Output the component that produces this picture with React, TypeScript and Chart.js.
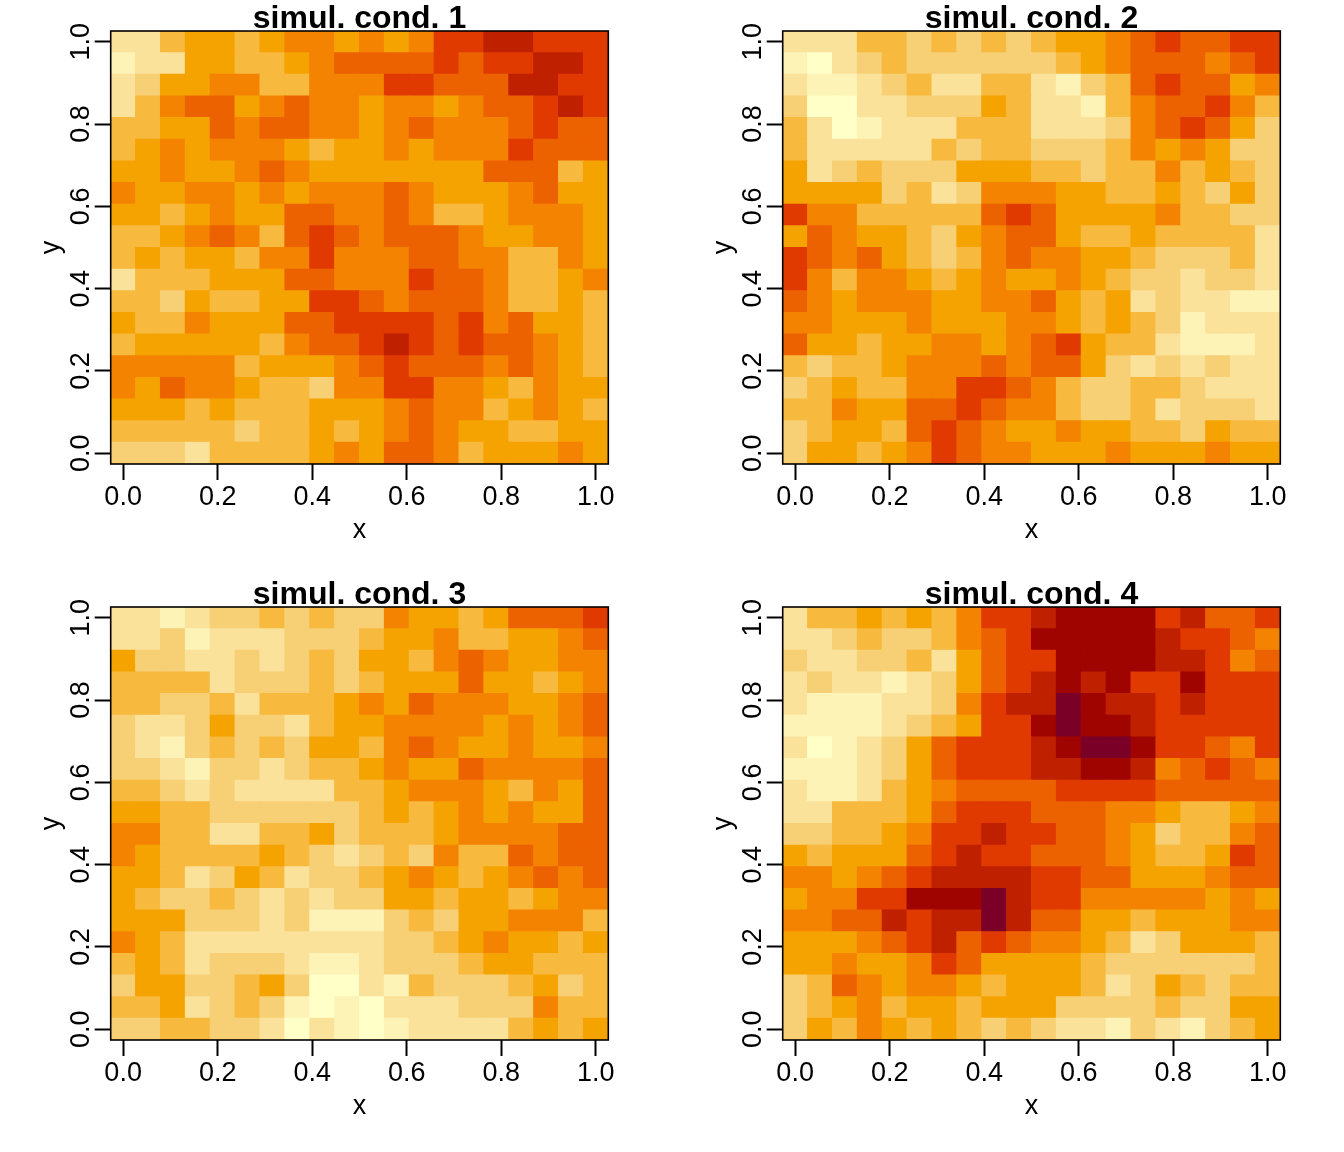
import React, { useEffect, useRef } from "react";
import { Chart, registerables } from "chart.js";

Chart.register(...registerables);

const palette = ["#FFFFC8", "#FDF3B6", "#FBE29A", "#F7CF74", "#F7B93E", "#F5A300", "#F38300", "#ED6200", "#E03A00", "#BF2000", "#9F0400", "#7A0028"];

const titles = ["simul. cond. 1", "simul. cond. 2", "simul. cond. 3", "simul. cond. 4"];
const tickValues = [0, 0.2, 0.4, 0.6, 0.8, 1];

const cond1 = [
  [2,2,4,5,5,4,5,6,6,5,6,5,6,8,8,9,9,8,8,8],
  [1,2,2,5,5,4,4,5,6,7,7,7,7,8,7,8,8,9,9,8],
  [2,3,5,5,6,6,4,4,6,6,6,8,8,7,7,7,9,9,8,8],
  [2,4,6,7,7,5,6,7,6,6,5,6,6,5,6,7,7,8,9,8],
  [4,4,5,5,7,6,7,7,6,6,5,6,7,6,6,6,7,8,7,7],
  [4,5,6,5,6,6,6,5,4,5,5,6,5,6,6,6,8,7,7,7],
  [5,5,6,5,5,6,7,6,5,5,5,5,5,5,5,7,7,7,4,5],
  [6,5,5,6,6,5,6,5,6,6,6,7,6,5,5,5,6,7,5,5],
  [5,5,4,5,6,5,5,7,7,6,6,7,6,4,4,5,6,6,6,5],
  [4,4,5,6,7,6,4,7,8,7,6,7,7,7,6,5,5,6,6,5],
  [4,5,4,5,5,4,6,6,8,6,6,6,7,7,6,6,4,4,6,5],
  [2,4,4,4,5,5,5,7,7,6,6,6,8,7,7,6,4,4,5,6],
  [4,4,3,5,4,4,5,5,8,8,7,6,7,7,7,6,4,4,5,4],
  [5,4,4,6,5,5,5,7,7,8,8,8,8,7,8,6,7,5,5,4],
  [4,5,5,5,5,5,4,6,7,7,8,9,8,7,8,7,7,6,5,4],
  [6,6,6,6,6,4,5,5,5,6,7,8,7,7,7,6,7,6,5,4],
  [6,5,7,6,6,5,4,4,3,6,6,8,8,6,6,5,4,6,5,5],
  [5,5,5,4,5,4,4,4,5,5,5,6,7,6,6,4,5,6,5,4],
  [4,4,4,4,4,3,4,4,5,4,5,6,7,6,5,5,4,4,5,5],
  [3,3,3,2,4,4,4,4,5,6,5,7,7,6,4,5,5,5,6,5],
];

const cond2 = [
  [2,2,2,4,4,3,4,3,4,3,4,5,5,6,7,8,7,7,8,8],
  [1,0,2,3,4,3,3,3,3,3,3,4,5,6,7,7,7,6,7,8],
  [2,1,1,2,3,4,2,2,4,4,2,1,3,4,7,8,7,7,5,6],
  [3,0,0,2,2,3,3,3,5,4,2,2,1,4,6,7,7,8,6,4],
  [4,2,0,1,2,2,2,4,4,4,2,2,2,3,6,7,8,7,5,3],
  [4,2,2,2,2,2,4,3,4,4,3,3,3,4,6,5,6,5,3,3],
  [5,2,3,4,3,3,3,5,5,5,4,4,3,4,4,6,4,5,4,3],
  [5,5,5,5,3,4,2,3,6,6,6,5,5,4,4,5,4,3,5,3],
  [8,6,6,4,4,4,4,4,7,8,7,5,5,5,5,6,4,4,3,3],
  [5,7,6,5,5,4,3,5,6,7,7,5,4,4,5,4,4,4,4,2],
  [8,7,6,7,5,4,3,4,6,7,6,6,5,5,4,3,3,3,4,2],
  [8,6,4,6,6,5,4,5,6,5,5,6,5,4,3,3,2,3,3,2],
  [7,6,5,6,6,6,5,5,6,6,7,5,4,5,2,3,2,2,1,1],
  [6,6,5,5,5,6,5,5,5,6,6,5,4,5,4,3,1,2,2,2],
  [7,5,5,4,5,5,6,6,5,6,7,8,5,4,4,2,1,1,1,2],
  [4,3,4,4,5,6,6,6,7,6,7,7,5,3,2,3,2,3,2,2],
  [3,4,5,4,4,6,6,8,8,7,6,4,3,3,4,4,3,2,2,2],
  [4,4,6,5,5,7,7,8,7,6,6,4,3,3,4,2,3,3,3,2],
  [3,4,5,5,4,7,8,7,6,5,5,6,5,5,4,4,3,5,4,4],
  [3,5,5,4,5,6,8,7,6,6,5,5,5,6,5,5,5,6,5,5],
];

const cond3 = [
  [2,2,1,2,3,3,4,3,4,3,3,6,5,5,4,5,7,7,7,8],
  [2,2,3,1,2,2,2,3,3,3,4,5,5,6,4,4,5,5,6,7],
  [5,3,3,2,2,3,2,3,4,3,5,5,4,6,7,6,5,5,6,6],
  [4,4,4,4,2,3,3,3,4,3,4,5,5,5,7,5,5,4,5,6],
  [4,4,3,3,4,2,4,4,4,5,6,5,7,6,6,6,5,5,6,7],
  [3,2,2,3,5,3,3,2,4,5,5,6,6,6,6,5,6,5,6,7],
  [3,2,1,3,4,3,4,3,5,5,4,6,7,6,5,5,6,5,5,6],
  [3,3,2,1,3,3,2,3,4,4,5,6,5,5,7,6,6,6,6,7],
  [4,4,3,2,3,2,2,2,2,4,4,5,6,6,6,5,4,6,5,7],
  [5,5,4,4,3,3,3,3,3,3,4,5,4,5,6,5,6,5,5,7],
  [6,6,4,4,2,2,4,4,5,3,4,4,4,5,6,6,6,6,7,7],
  [6,5,4,4,4,4,5,4,3,2,3,4,3,6,4,4,7,6,7,7],
  [5,5,4,2,3,5,4,2,3,3,4,5,6,5,4,5,6,7,6,7],
  [5,4,3,3,4,3,2,3,2,3,3,5,5,4,5,5,4,5,6,6],
  [5,5,5,3,3,3,2,3,1,1,1,3,4,3,5,5,6,6,6,4],
  [6,5,4,2,2,2,2,2,2,2,2,3,3,4,5,6,5,5,4,5],
  [4,5,4,2,3,3,3,2,1,1,2,3,3,3,4,5,5,4,4,4],
  [3,5,5,3,3,4,5,3,0,0,2,1,4,3,3,3,4,5,3,4],
  [4,4,5,2,3,4,3,1,0,1,0,2,2,2,3,3,3,6,4,4],
  [3,3,4,4,3,3,2,0,2,1,0,1,2,2,2,2,4,5,4,5],
];

const cond4 = [
  [2,4,4,5,4,5,4,6,8,8,9,10,10,10,10,8,9,7,7,8],
  [2,2,3,4,3,3,4,6,7,8,10,10,10,10,10,9,8,8,7,6],
  [3,2,2,3,3,4,2,5,7,8,8,10,10,10,10,9,9,8,6,7],
  [2,3,2,2,1,2,3,5,7,8,9,10,9,10,8,8,10,8,8,8],
  [2,1,1,1,2,2,3,6,8,9,9,11,10,9,9,8,9,8,8,8],
  [1,1,1,1,2,3,4,5,8,8,10,11,10,10,9,8,8,8,8,8],
  [2,0,1,2,3,5,7,8,8,8,9,10,11,11,10,8,8,7,6,8],
  [1,1,1,2,3,5,7,8,8,8,9,9,10,10,9,6,7,8,7,6],
  [2,1,1,2,4,5,6,7,7,7,7,8,8,8,8,7,7,7,7,7],
  [2,2,4,4,4,5,7,8,8,8,7,7,7,6,6,5,4,4,5,6],
  [3,3,4,4,5,6,8,8,9,8,8,7,7,6,5,3,4,4,6,7],
  [5,4,5,5,5,7,8,9,8,8,7,7,7,6,5,4,4,5,8,7],
  [6,6,5,6,7,8,9,9,9,9,8,8,7,7,5,5,5,6,7,7],
  [5,6,6,8,8,10,10,10,11,9,8,8,6,6,6,6,6,5,6,5],
  [6,6,7,7,9,8,9,9,11,9,7,7,5,5,4,5,5,5,6,6],
  [5,5,5,6,7,8,9,7,8,7,6,6,5,4,2,3,5,5,5,4],
  [5,5,6,5,5,6,8,7,5,5,5,5,4,3,3,3,3,3,3,4],
  [3,4,7,6,5,6,6,5,4,5,5,5,4,2,3,5,4,3,4,4],
  [3,4,5,6,4,5,5,4,5,5,5,3,3,3,3,4,3,3,5,5],
  [3,5,4,6,5,4,5,4,3,4,3,2,2,1,3,2,1,3,4,5],
];

const panels = [cond1, cond2, cond3, cond4];

const FONT = "'Liberation Sans', Arial, sans-serif";

const frame = {
  id: "frame",
  afterDatasetsDraw(chart: any) {
    const { ctx, chartArea: a } = chart;
    ctx.save();
    ctx.strokeStyle = "#000";
    ctx.lineWidth = 1.6;
    ctx.strokeRect(a.left, a.top, a.right - a.left, a.bottom - a.top);
    ctx.restore();
  },
};

function Panel({ rows, title, col, row }: { rows: number[][]; title: string; col: number; row: number }) {
  const ref = useRef<HTMLCanvasElement>(null);
  useEffect(() => {
    const n = rows.length;
    const half = 1 / (2 * (n - 1));
    const points: any[] = [];
    const colors: string[] = [];
    rows.forEach((values, r) => {
      const yc = (n - 1 - r) / (n - 1);
      values.forEach((v, c) => {
        points.push({ x: c / (n - 1), y: [yc - half, yc + half] });
        colors.push(palette[v]);
      });
    });
    const chart = new Chart(ref.current as HTMLCanvasElement, {
      type: "bar",
      data: {
        datasets: [
          {
            data: points,
            backgroundColor: colors,
            borderWidth: 0,
            inflateAmount: 0.5,
            barPercentage: 1,
            categoryPercentage: 1,
          } as any,
        ],
      },
      plugins: [frame],
      options: {
        animation: false,
        responsive: false,
        events: [],
        layout: { padding: { left: 0, right: 63.7, top: 0, bottom: 0 } },
        plugins: {
          legend: { display: false },
          tooltip: { enabled: false },
          title: {
            display: true,
            text: title,
            color: "#000",
            fullSize: false,
            font: { family: FONT, size: 32, weight: "bold", lineHeight: 1.2 },
            padding: { top: -0.5, bottom: -6.9 },
          } as any,
        },
        scales: {
          x: {
            type: "linear",
            offset: false,
            min: -1 / 38,
            max: 1 + 1 / 38,
            afterFit: (s: any) => {
              s.height = 112;
            },
            grid: { offset: false, drawOnChartArea: false, drawTicks: true, tickLength: 16, tickColor: "#000", tickWidth: 2 },
            border: { display: false },
            ticks: {
              stepSize: 0.2,
              includeBounds: false,
              autoSkip: false,
              maxRotation: 0,
              minRotation: 0,
              padding: 1.5,
              color: "#000",
              font: { family: FONT, size: 27 },
              callback: (v: any) => (tickValues.some((t) => Math.abs(t - v) < 1e-6) ? Number(v).toFixed(1) : ""),
            },
            title: { display: true, text: "x", color: "#000", font: { family: FONT, size: 27, lineHeight: 1.2 }, padding: { top: 0, bottom: 29.4 } },
          },
          y: {
            type: "linear",
            min: -1 / 38,
            max: 1 + 1 / 38,
            afterFit: (s: any) => {
              s.width = 110.7;
            },
            grid: { drawOnChartArea: false, drawTicks: true, tickLength: 16, tickColor: "#000", tickWidth: 2 },
            border: { display: false },
            ticks: {
              stepSize: 0.2,
              includeBounds: false,
              autoSkip: false,
              minRotation: 90,
              maxRotation: 90,
              crossAlign: "center",
              padding: -6,
              color: "#000",
              font: { family: FONT, size: 27 },
              callback: (v: any) => (tickValues.some((t) => Math.abs(t - v) < 1e-6) ? Number(v).toFixed(1) : ""),
            },
            title: { display: true, text: "y", color: "#000", font: { family: FONT, size: 27, lineHeight: 1.2 }, padding: { top: 35.4, bottom: 0 } },
          },
        },
      } as any,
    });
    return () => chart.destroy();
  }, [rows, title]);
  return (
    <canvas
      ref={ref}
      width={672}
      height={576}
      style={{ position: "absolute", left: col * 672, top: row * 576, width: 672, height: 576, display: "block" }}
    />
  );
}

export default function App() {
  return (
    <div style={{ position: "fixed", left: 0, top: 0, width: 1344, height: 1152, background: "#fff", overflow: "hidden" }}>
      {panels.map((rows, i) => (
        <Panel key={i} rows={rows} title={titles[i]} col={i % 2} row={Math.floor(i / 2)} />
      ))}
    </div>
  );
}
